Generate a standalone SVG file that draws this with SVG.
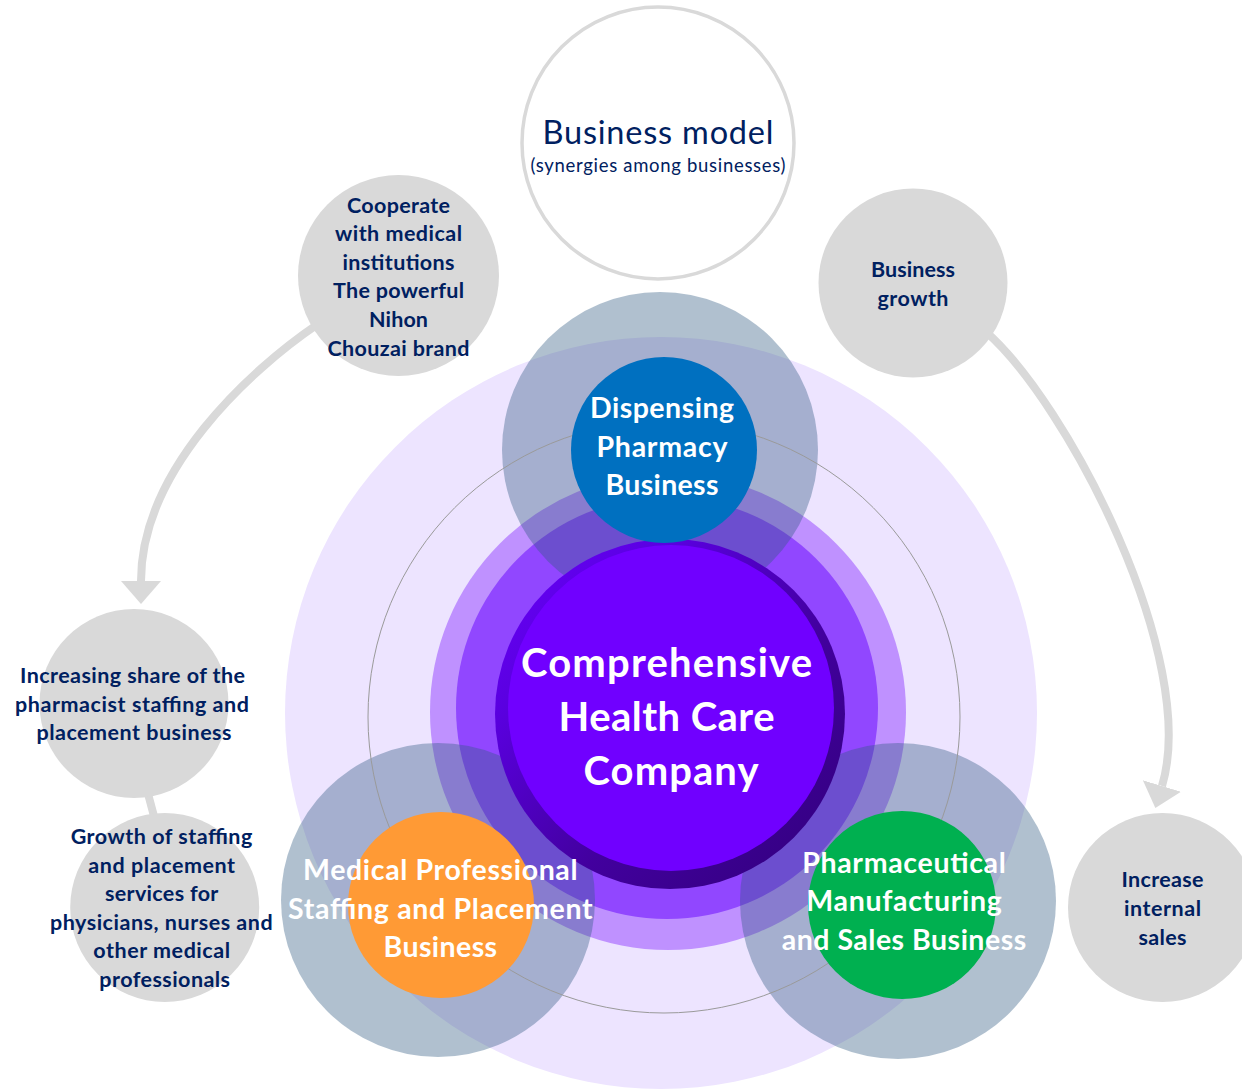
<svg xmlns="http://www.w3.org/2000/svg" width="1242" height="1092" viewBox="0 0 1242 1092">
<defs>
<style>
.t{font-family:Lato,"Liberation Sans",sans-serif;text-anchor:middle}
.b{font-weight:700}
.navy{fill:#002060}
.wh{fill:#ffffff}
.gry{fill:#D9D9D9}
.halo{fill:#2F5A80;fill-opacity:0.38}
.conn{fill:none;stroke:#D9D9D9;stroke-width:8}
.s21{font-size:21.5px}
.s28{font-size:28.5px}
.s38{font-size:40px}
</style>
<marker id="ah" viewBox="0 0 23 40" refX="0" refY="20" markerWidth="23" markerHeight="40" markerUnits="userSpaceOnUse" orient="auto">
<path d="M0,0 L23,20 L0,40 Z" fill="#D9D9D9"/>
</marker>
<linearGradient id="dk" x1="0" y1="0" x2="1" y2="1">
<stop offset="0" stop-color="#6A00FF"/>
<stop offset="0.25" stop-color="#5A00E0"/>
<stop offset="0.6" stop-color="#42009E"/>
<stop offset="1" stop-color="#30007A"/>
</linearGradient>
</defs>
<rect width="1242" height="1092" fill="#ffffff"/>

<g id="connectors">
<path class="conn" d="M318,324 C250,370 141,470 141,581" marker-end="url(#ah)"/>
<path class="conn" d="M985,331 C1068,403 1200,660 1162,786" marker-end="url(#ah)"/>
<path class="conn" d="M147,790 L155,820"/>
</g>

<g id="rings">
<circle cx="661" cy="713" r="376" fill="#EDE4FF"/>
<circle cx="668" cy="712" r="238" fill="#BF91FF"/>
<circle cx="667" cy="708" r="211" fill="#9147FF"/>
</g>

<g id="halos">
<circle class="halo" cx="660" cy="450" r="158"/>
<circle class="halo" cx="438" cy="900" r="157"/>
<circle class="halo" cx="898" cy="901" r="158"/>
</g>

<circle id="orbit" cx="664" cy="717" r="296" fill="none" stroke="#9A9A9A" stroke-width="1"/>

<g id="center">
<circle cx="670" cy="714" r="175" fill="url(#dk)"/>
<circle cx="671" cy="708" r="163" fill="#7000FF"/>
<text class="t b wh s38" x="666.5" y="677" textLength="291">Comprehensive</text>
<text class="t b wh s38" x="666.5" y="730.5" textLength="216">Health Care</text>
<text class="t b wh s38" x="671" y="785" textLength="175">Company</text>
</g>

<g id="dispensing">
<circle cx="664" cy="450" r="93" fill="#0070C0"/>
<text class="t b wh s28" x="662" y="418.3" textLength="144">Dispensing</text>
<text class="t b wh s28" x="662" y="456.5" textLength="131">Pharmacy</text>
<text class="t b wh s28" x="662" y="495" textLength="113">Business</text>
</g>

<g id="medical">
<circle cx="441" cy="905" r="93" fill="#FF9A35"/>
<text class="t b wh s28" x="440.3" y="880" textLength="274.5">Medical Professional</text>
<text class="t b wh s28" x="440.3" y="918.7" textLength="304.5">Staffing and Placement</text>
<text class="t b wh s28" x="440.3" y="957.3" textLength="113.7">Business</text>
</g>

<g id="pharma">
<circle cx="902" cy="905" r="94" fill="#00B050"/>
<text class="t b wh s28" x="904" y="872.7" textLength="203.6">Pharmaceutical</text>
<text class="t b wh s28" x="904" y="911.3" textLength="195.4">Manufacturing</text>
<text class="t b wh s28" x="904" y="950" textLength="244.4">and Sales Business</text>
</g>

<g id="business-model">
<circle cx="658" cy="143" r="136" fill="#ffffff" stroke="#D9D9D9" stroke-width="3.5"/>
<text class="t navy" x="658" y="144" font-size="32.5" textLength="231">Business model</text>
<text class="t navy" x="658" y="172" font-size="18.5" textLength="255">(synergies among businesses)</text>
</g>

<g id="cooperate">
<circle class="gry" cx="398.5" cy="275.5" r="100.5"/>
<text class="t b navy s21" x="398.5" y="212.5" textLength="103">Cooperate</text>
<text class="t b navy s21" x="398.5" y="241.1" textLength="127">with medical</text>
<text class="t b navy s21" x="398.5" y="269.7" textLength="112">institutions</text>
<text class="t b navy s21" x="398.5" y="298.3" textLength="131">The powerful</text>
<text class="t b navy s21" x="398.5" y="326.9" textLength="59">Nihon</text>
<text class="t b navy s21" x="398.5" y="355.5" textLength="142">Chouzai brand</text>
</g>

<g id="growth">
<circle class="gry" cx="913" cy="283" r="94.5"/>
<text class="t b navy s21" x="913" y="277" textLength="84">Business</text>
<text class="t b navy s21" x="913" y="305.5" textLength="71">growth</text>
</g>

<g id="internal-sales">
<circle class="gry" cx="1162.5" cy="907.5" r="94.5"/>
<text class="t b navy s21" x="1162.5" y="887" textLength="82">Increase</text>
<text class="t b navy s21" x="1162.5" y="916.3" textLength="77">internal</text>
<text class="t b navy s21" x="1162.5" y="945.3" textLength="48">sales</text>
</g>

<g id="pharmacist-share">
<circle class="gry" cx="134" cy="703.5" r="94.5"/>
<text class="t b navy s21" x="132.5" y="683" textLength="225">Increasing share of the</text>
<text class="t b navy s21" x="132" y="711.5" textLength="234">pharmacist staffing and</text>
<text class="t b navy s21" x="134" y="740" textLength="195">placement business</text>
</g>

<g id="staffing-growth">
<circle class="gry" cx="164.7" cy="907.5" r="94.5"/>
<text class="t b navy s21" x="161.5" y="844" textLength="181.7">Growth of staffing</text>
<text class="t b navy s21" x="161.7" y="872.6" textLength="146.7">and placement</text>
<text class="t b navy s21" x="161.7" y="901.1" textLength="113.3">services for</text>
<text class="t b navy s21" x="161.3" y="929.7" textLength="222.7">physicians, nurses and</text>
<text class="t b navy s21" x="161.7" y="958.2" textLength="136.7">other medical</text>
<text class="t b navy s21" x="164.7" y="986.8" textLength="130.7">professionals</text>
</g>
</svg>
